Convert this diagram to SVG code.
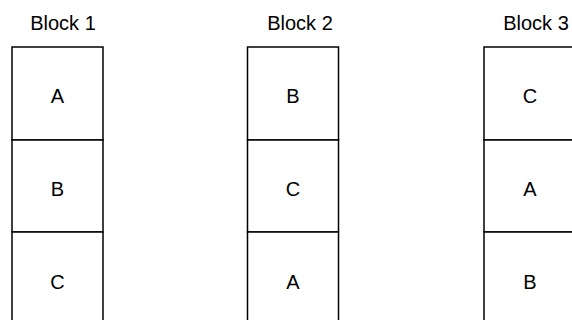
<svg xmlns="http://www.w3.org/2000/svg" width="572" height="320" viewBox="0 0 572 320">
<style>
.box{fill:#fff;stroke:#000;stroke-width:1.5}
.t{font-family:"Liberation Sans",Arial,sans-serif;font-size:20px;fill:#000;text-anchor:middle}
.h{font-family:"Liberation Sans",Arial,sans-serif;font-size:20px;fill:#000;text-anchor:middle}
</style>
<rect width="572" height="320" fill="#fff"/>
<g id="block1">
<text class="h" x="63" y="30">Block 1</text>
<g id="b1-A"><rect class="box" x="12" y="47" width="91" height="93"/><text class="t" x="57.5" y="102.5">A</text></g>
<g id="b1-B"><rect class="box" x="12" y="140" width="91" height="92"/><text class="t" x="57.5" y="196">B</text></g>
<g id="b1-C"><rect class="box" x="12" y="232" width="91" height="93"/><text class="t" x="57.5" y="289">C</text></g>
</g>
<g id="block2">
<text class="h" x="300" y="30">Block 2</text>
<g id="b2-B"><rect class="box" x="247.5" y="47" width="91" height="93"/><text class="t" x="293" y="102.5">B</text></g>
<g id="b2-C"><rect class="box" x="247.5" y="140" width="91" height="92"/><text class="t" x="293" y="196">C</text></g>
<g id="b2-A"><rect class="box" x="247.5" y="232" width="91" height="93"/><text class="t" x="293" y="289">A</text></g>
</g>
<g id="block3">
<text class="h" x="536" y="30">Block 3</text>
<g id="b3-C"><rect class="box" x="484" y="47" width="92" height="93"/><text class="t" x="530" y="102.5">C</text></g>
<g id="b3-A"><rect class="box" x="484" y="140" width="92" height="92"/><text class="t" x="530" y="196">A</text></g>
<g id="b3-B"><rect class="box" x="484" y="232" width="92" height="93"/><text class="t" x="530" y="289">B</text></g>
</g>
<g id="connectors"/>
</svg>
